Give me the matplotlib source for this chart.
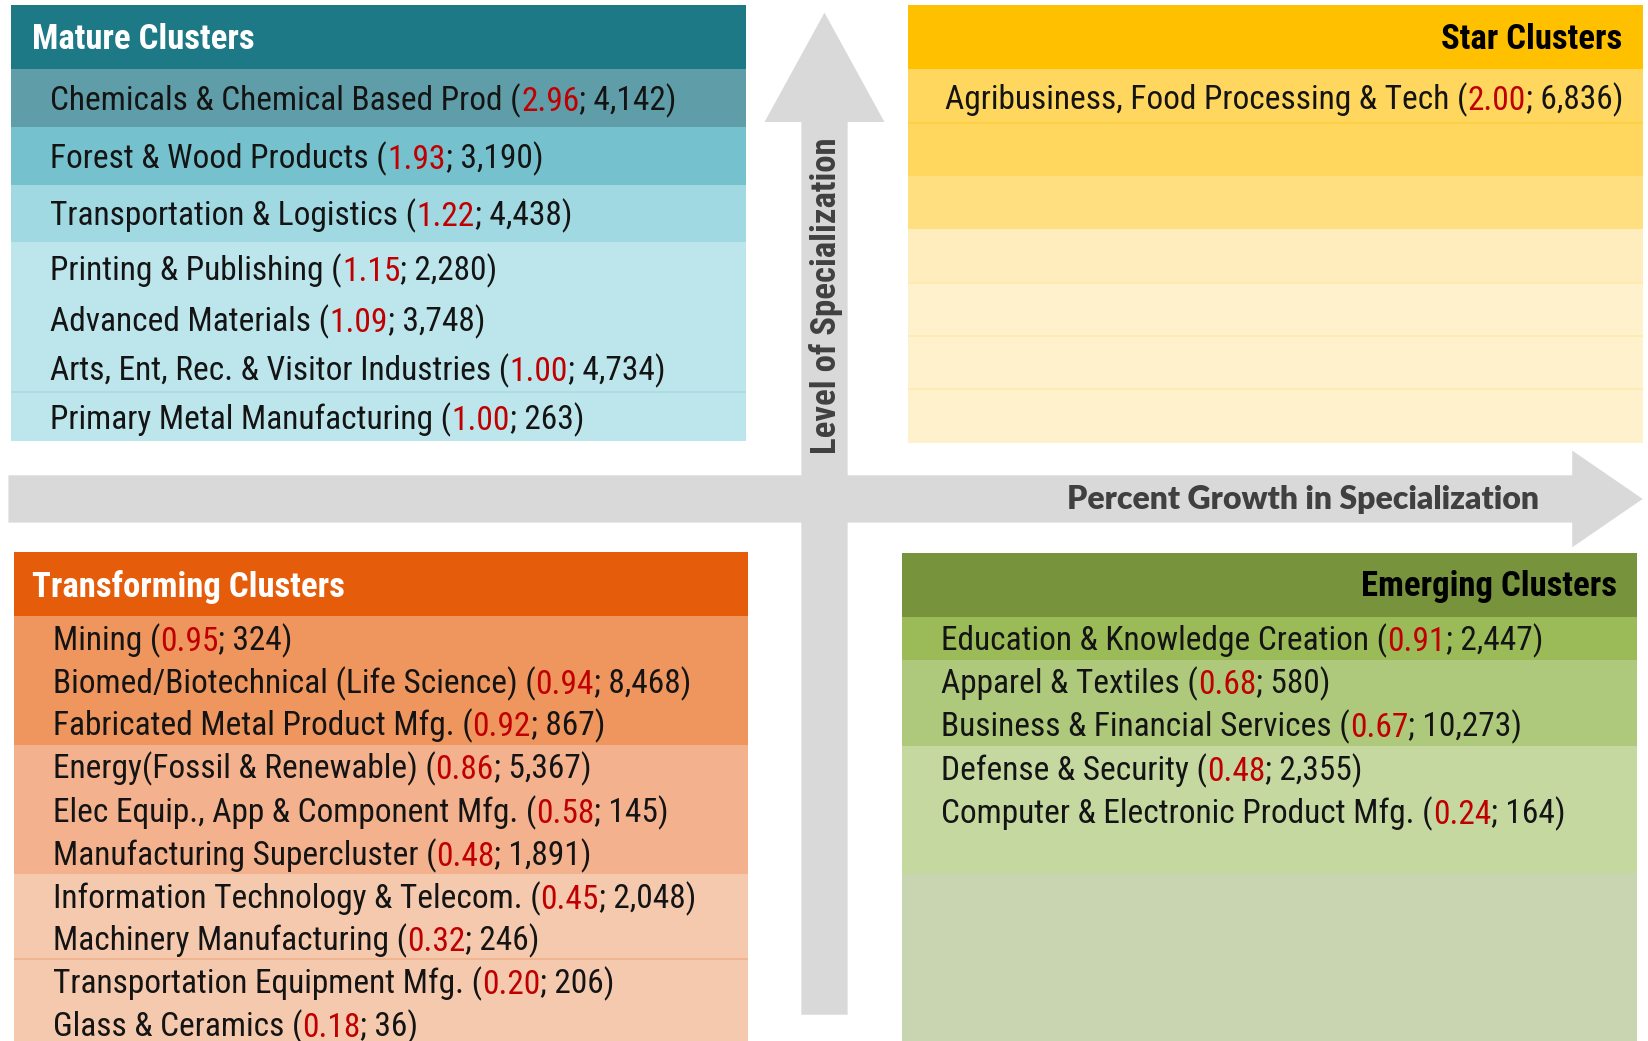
import matplotlib
matplotlib.use("Agg")
import matplotlib.pyplot as plt
from matplotlib import font_manager as fm
from matplotlib.font_manager import FontProperties
from matplotlib.patches import Rectangle, FancyArrow

# ---------------- data ----------------
mature_names = ["Chemicals & Chemical Based Prod", "Forest & Wood Products",
                "Transportation & Logistics", "Printing & Publishing",
                "Advanced Materials", "Arts, Ent, Rec. & Visitor Industries",
                "Primary Metal Manufacturing"]
mature_lq = ["2.96", "1.93", "1.22", "1.15", "1.09", "1.00", "1.00"]
mature_emp = ["4,142", "3,190", "4,438", "2,280", "3,748", "4,734", "263"]

star_names = ["Agribusiness, Food Processing & Tech"]
star_lq = ["2.00"]
star_emp = ["6,836"]

trans_names = ["Mining", "Biomed/Biotechnical (Life Science)",
               "Fabricated Metal Product Mfg.", "Energy(Fossil & Renewable)",
               "Elec Equip., App & Component Mfg.", "Manufacturing Supercluster",
               "Information Technology & Telecom.", "Machinery Manufacturing",
               "Transportation Equipment Mfg.", "Glass & Ceramics"]
trans_lq = ["0.95", "0.94", "0.92", "0.86", "0.58", "0.48", "0.45", "0.32", "0.20", "0.18"]
trans_emp = ["324", "8,468", "867", "5,367", "145", "1,891", "2,048", "246", "206", "36"]

emerg_names = ["Education & Knowledge Creation", "Apparel & Textiles",
               "Business & Financial Services", "Defense & Security",
               "Computer & Electronic Product Mfg."]
emerg_lq = ["0.91", "0.68", "0.67", "0.48", "0.24"]
emerg_emp = ["2,447", "580", "10,273", "2,355", "164"]

titles = ["Mature Clusters", "Star Clusters", "Transforming Clusters", "Emerging Clusters"]
axis_labels = ["Level of Specialization", "Percent Growth in Specialization"]

# ---------------- fonts ----------------
avail = {f.name for f in fm.fontManager.ttflist}
NARROW = None
for cand in ["Roboto Condensed", "Liberation Sans Narrow", "Open Sans Condensed",
             "Noto Sans Condensed", "DejaVu Sans Condensed"]:
    if cand in avail:
        NARROW = cand
        break
if NARROW is None:
    NARROW = "Liberation Sans"
BOLDSANS = "Lato" if "Lato" in avail else "DejaVu Sans"


def fp(size, weight="normal", family=None):
    return FontProperties(family=family or NARROW, size=size, weight=weight)


# ---------------- figure ----------------
fig = plt.figure(figsize=(16.49, 10.41), dpi=100)
ax = fig.add_axes([0, 0, 1, 1])
ax.set_xlim(0, 1568)
ax.set_ylim(990, 0)
ax.axis("off")

GRAY = "#D9D9D9"
RED = "#C00000"
INK = "#141414"
ROW_SIZE = 24
HEAD_SIZE = 25
DY = 1.5

# arrows
ax.add_patch(FancyArrow(8, 474.5, 1562 - 8, 0, width=45, head_width=92, head_length=67,
                        length_includes_head=True, color=GRAY, lw=0, zorder=1))
ax.add_patch(FancyArrow(784, 965, 0, 12 - 965, width=44, head_width=114, head_length=104,
                        length_includes_head=True, color=GRAY, lw=0, zorder=1))


def band(x0, x1, y0, y1, color):
    ax.add_patch(Rectangle((x0, y0), x1 - x0, y1 - y0, facecolor=color, edgecolor="none", zorder=2))


def hline(x0, x1, y, color):
    ax.plot([x0, x1], [y, y], color=color, lw=1.2, zorder=3, solid_capstyle="butt")


def rich_line(x, y, name, lq, emp, size=ROW_SIZE):
    parts = [(name + " (", INK), (lq, RED), ("; " + emp + ")", INK)]
    prev = ax.text(x, y + DY, parts[0][0], color=parts[0][1], fontproperties=fp(size),
                   va="center", ha="left", zorder=5)
    for s, c in parts[1:]:
        prev = ax.annotate(s, xy=(1, 0), xycoords=prev, va="bottom", ha="left",
                           color=c, fontproperties=fp(size), zorder=5)


# ---- Mature (teal) ----
mx0, mx1 = 10, 709
band(mx0, mx1, 5, 65.5, "#1E7986")
band(mx0, mx1, 65.5, 120.5, "#5F9EA8")
band(mx0, mx1, 120.5, 175.5, "#75C1CE")
band(mx0, mx1, 175.5, 230.5, "#A0D9E2")
band(mx0, mx1, 230.5, 419, "#BDE6EC")
hline(mx0, mx1, 372.5, "#ADDAE2")
ax.text(30, 38, titles[0], color="white", fontproperties=fp(HEAD_SIZE, "bold"), va="center", ha="left", zorder=5)
mature_y = [94, 149, 204, 256, 304, 351, 398]
for yy, n, l, e in zip(mature_y, mature_names, mature_lq, mature_emp):
    rich_line(48, yy, n, l, e)

# ---- Star (gold) ----
sx0, sx1 = 863, 1562
sb = [5, 65.5, 116.5, 167.5, 218, 269, 319.5, 370, 421]
scol = ["#FFC000", "#FFD75E", "#FFD75E", "#FFDF80", "#FFEDBD", "#FFF1CC", "#FFF1CC", "#FFF1CC"]
for i, c in enumerate(scol):
    band(sx0, sx1, sb[i], sb[i + 1], c)
hline(sx0, sx1, sb[2], "#FFCF40")
for yy in sb[5:8]:
    hline(sx0, sx1, yy, "#FFE9AE")
ax.text(1543, 38, titles[1], color="black", fontproperties=fp(HEAD_SIZE, "bold"), va="center", ha="right", zorder=5)
for yy, n, l, e in zip([93], star_names, star_lq, star_emp):
    rich_line(899, yy, n, l, e)

# ---- Transforming (orange) ----
tx0, tx1 = 13, 711
band(tx0, tx1, 525, 585.5, "#E55C0B")
band(tx0, tx1, 585.5, 708.5, "#EF955E")
band(tx0, tx1, 708.5, 831, "#F3B28D")
band(tx0, tx1, 831, 990, "#F5C9AE")
hline(tx0, tx1, 912, "#EFB08A")
ax.text(30, 558, titles[2], color="white", fontproperties=fp(HEAD_SIZE, "bold"), va="center", ha="left", zorder=5)
trans_y = [608, 649, 689, 730, 771, 812, 853, 893, 934, 975]
for yy, n, l, e in zip(trans_y, trans_names, trans_lq, trans_emp):
    rich_line(50, yy, n, l, e)

# ---- Emerging (green) ----
ex0, ex1 = 858, 1557
band(ex0, ex1, 525.5, 586.5, "#77933C")
band(ex0, ex1, 586.5, 627.5, "#9BBB59")
band(ex0, ex1, 627.5, 709.5, "#AEC97B")
band(ex0, ex1, 709.5, 831, "#C5D8A0")
band(ex0, ex1, 831, 990, "#C9D4B0")
ax.text(1538, 558, titles[3], color="black", fontproperties=fp(HEAD_SIZE, "bold"), va="center", ha="right", zorder=5)
emerg_y = [608, 649, 690, 731, 772]
for yy, n, l, e in zip(emerg_y, emerg_names, emerg_lq, emerg_emp):
    rich_line(895, yy, n, l, e)

# ---- axis labels ----
ax.text(785, 281, axis_labels[0], rotation=90, color="#404040", fontproperties=fp(25, "bold"),
        va="center", ha="center", zorder=5)
ax.text(1463, 475, axis_labels[1], color="#404040",
        fontproperties=FontProperties(family=BOLDSANS, size=23, weight="heavy"),
        va="center", ha="right", zorder=5)

fig.savefig("out.png", dpi=100)
